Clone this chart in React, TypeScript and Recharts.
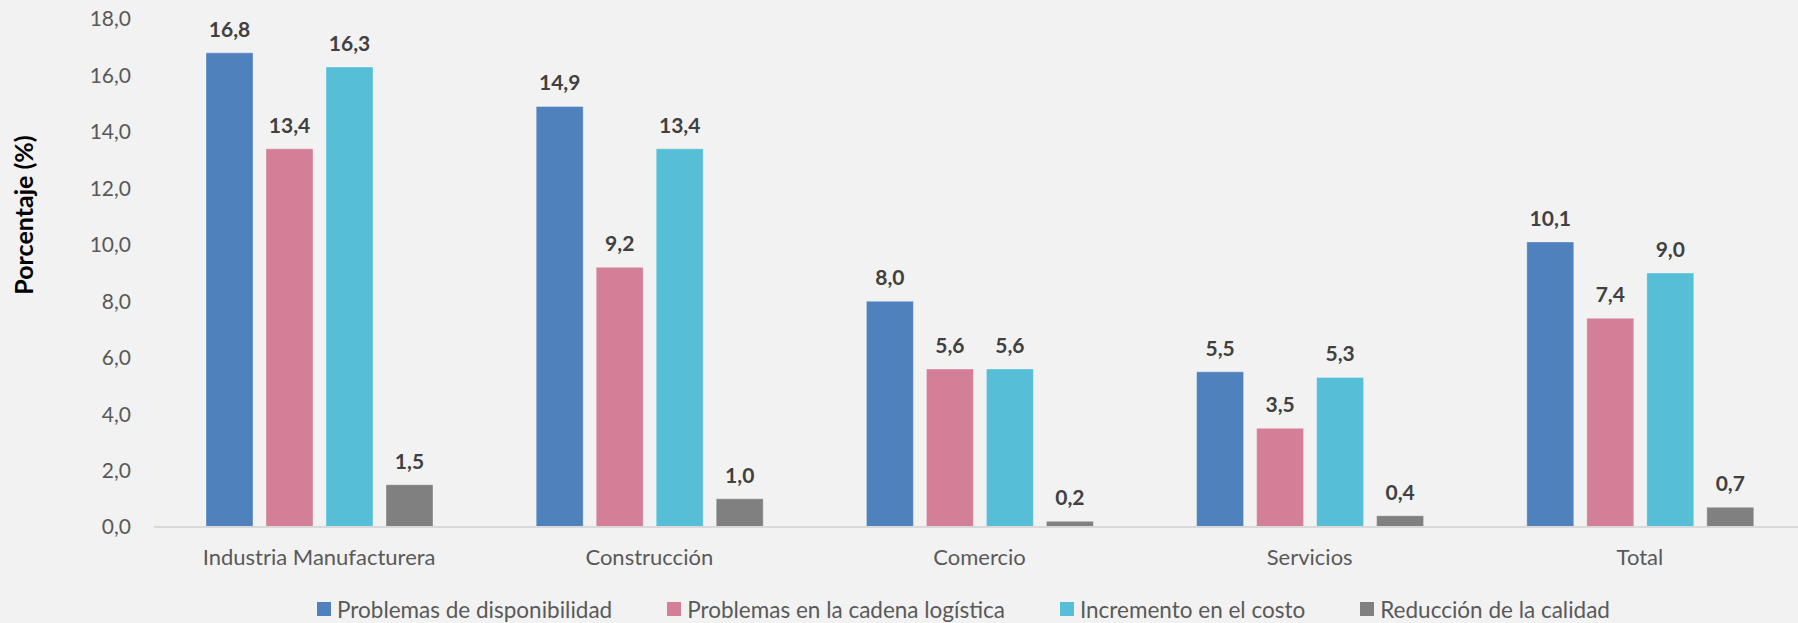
import React from "react";
import { BarChart, Bar, XAxis, YAxis, Legend, LabelList } from "recharts";

const categories = ["Industria Manufacturera", "Construcción", "Comercio", "Servicios", "Total"];
const disponibilidad = [16.8, 14.9, 8.0, 5.5, 10.1];
const logistica = [13.4, 9.2, 5.6, 3.5, 7.4];
const costo = [16.3, 13.4, 5.6, 5.3, 9.0];
const calidad = [1.5, 1.0, 0.2, 0.4, 0.7];
const yTicks = [0, 2, 4, 6, 8, 10, 12, 14, 16, 18];

const seriesNames = [
  "Problemas de disponibilidad",
  "Problemas en la cadena logística",
  "Incremento en el costo",
  "Reducción de la calidad",
];
const seriesKeys = ["disp", "log", "cost", "cal"];
const colors = ["#4F81BD", "#D47F98", "#56BED6", "#808080"];

const data = categories.map((c, i) => ({
  cat: c,
  disp: disponibilidad[i],
  log: logistica[i],
  cost: costo[i],
  cal: calidad[i],
}));

const FONT = "Lato, 'Open Sans', sans-serif";
const fmt = (v: any) => Number(v).toFixed(1).replace(".", ",");

const LegendContent = () => (
  <div
    style={{
      display: "flex",
      alignItems: "center",
      height: 28,
      paddingLeft: 317,
      fontFamily: FONT,
      fontSize: 22.5,
      color: "#595959",
      whiteSpace: "nowrap",
    }}
  >
    {seriesNames.map((n, i) => (
      <div key={n} style={{ display: "flex", alignItems: "center", marginRight: 55 }}>
        <span style={{ width: 14, height: 14, background: colors[i], display: "inline-block", marginRight: 6 }} />
        <span>{n}</span>
      </div>
    ))}
  </div>
);

const YTitle = () => (
  <text
    x={23}
    y={215}
    transform="rotate(-90 23 215)"
    textAnchor="middle"
    dominantBaseline="central"
    fontFamily={FONT}
    fontWeight={700}
    fontSize={25}
    fill="#000"
  >
    Porcentaje (%)
  </text>
);

export default function App() {
  return (
    <div style={{ width: 1798, height: 623, overflow: "hidden", background: "#F2F2F2" }}>
      <style>{"html,body{margin:0;padding:0;background:#F2F2F2;overflow:hidden;}"}</style>
      <BarChart
        width={1805}
        height={623}
        data={data}
        margin={{ top: 19, right: 0, bottom: 0, left: 0 }}
        barSize={47}
        barGap={13}
      >
        <XAxis
          dataKey="cat"
          interval={0}
          height={68}
          tickLine={false}
          tickSize={0}
          tickMargin={22}
          axisLine={{ stroke: "#D9D9D9", strokeWidth: 2 }}
          tick={{ fill: "#595959", fontSize: 22, fontFamily: FONT }}
        />
        <YAxis
          width={154}
          domain={[0, 18]}
          ticks={yTicks}
          interval={0}
          tickFormatter={fmt}
          axisLine={false}
          tickLine={false}
          tickSize={0}
          tickMargin={23}
          tick={{ fill: "#595959", fontSize: 21, fontFamily: FONT }}
          label={{ content: () => <YTitle /> }}
        />
        <Legend verticalAlign="bottom" height={28} content={() => <LegendContent />} />
        {seriesKeys.map((k, i) => (
          <Bar
            key={k}
            dataKey={k}
            name={seriesNames[i]}
            fill={colors[i]}
            stroke="#ffffff"
            strokeOpacity={0.35}
            strokeWidth={1}
            isAnimationActive={false}
          >
            <LabelList
              dataKey={k}
              position="top"
              offset={16}
              formatter={fmt}
              style={{ fill: "#404040", fontSize: 21, fontWeight: 700, fontFamily: FONT }}
            />
          </Bar>
        ))}
      </BarChart>
    </div>
  );
}
